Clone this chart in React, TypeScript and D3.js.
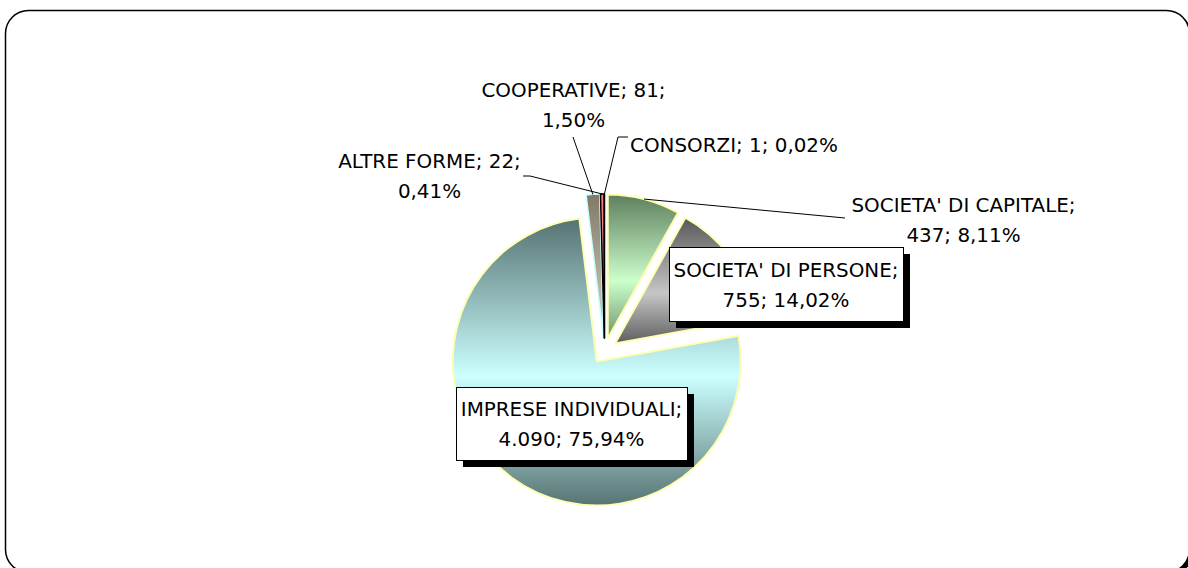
import React from 'react';
import * as d3 from 'd3';

// ---- Data ----
const categories = [
  "SOCIETA' DI CAPITALE",
  "SOCIETA' DI PERSONE",
  'IMPRESE INDIVIDUALI',
  'COOPERATIVE',
  'ALTRE FORME',
  'CONSORZI',
];
const values = [437, 755, 4090, 81, 22, 1];

// ---- Styles / layout ----
const W = 1188;
const H = 568;
const CX = 604.5;
const CY = 351;
const R = 144;
const EXPLODE = 13;
const FONT = '"DejaVu Sans", Verdana, sans-serif';
const FS = 19.9;
const LINE = 29.5;

type Grad = { stops: [number, string][]; stroke: string; strokeWidth: number };
const sliceStyles: Grad[] = [
  { stops: [[0, '#5e7e5e'], [0.6, '#ccffcc'], [1, '#6f956f']], stroke: '#ffffb4', strokeWidth: 2 },
  { stops: [[0, '#585858'], [0.6, '#c6c6c6'], [1, '#5e5e5e']], stroke: '#ffffb4', strokeWidth: 2 },
  { stops: [[0, '#567272'], [0.55, '#ccffff'], [1, '#587474']], stroke: '#ffffb4', strokeWidth: 2 },
  { stops: [[0, '#837866'], [1, '#d6d6c6']], stroke: '#c8ffff', strokeWidth: 1.5 },
  { stops: [[0, '#ff7a7a'], [1, '#ff9a9a']], stroke: '#000000', strokeWidth: 1.5 },
  { stops: [[0, '#000000'], [1, '#000000']], stroke: '#000000', strokeWidth: 1.5 },
];

type Layout = {
  wrap: 'name' | 'value' | 'none';
  x: number;
  y: number;
  anchor: 'middle' | 'start';
  box?: { x: number; y: number; w: number; h: number };
  elbow?: [number, number][];
};
const labelLayout: Layout[] = [
  { wrap: 'name', x: 963.5, y: 212, anchor: 'middle', elbow: [[845, 218]] },
  { wrap: 'name', x: 786, y: 277, anchor: 'middle', box: { x: 669, y: 247, w: 234, h: 74 } },
  { wrap: 'name', x: 571.5, y: 416, anchor: 'middle', box: { x: 456, y: 387, w: 231, h: 73 } },
  { wrap: 'value', x: 573.5, y: 97, anchor: 'middle', elbow: [[573, 137]] },
  { wrap: 'value', x: 429.5, y: 168, anchor: 'middle', elbow: [[523, 176], [530, 176]] },
  { wrap: 'none', x: 630, y: 152, anchor: 'start', elbow: [[628, 137], [618, 137]] },
];

const locale = d3.formatLocale({ decimal: ',', thousands: '.', grouping: [3], currency: ['€', ''] });
const fmtVal = locale.format(',d');
const fmtPct = locale.format('.2f');

export default function App() {
  const total = d3.sum(values);
  const data = categories.map((c, i) => ({ name: c, value: values[i], i }));
  const pie = d3.pie<any>().sort(null).value((d) => d.value).startAngle(0).endAngle(2 * Math.PI);
  const arcs = pie(data);
  const arcGen = d3.arc<any>().innerRadius(0).outerRadius(R);

  return (
    <svg
      width={W}
      height={H}
      style={{ position: 'fixed', left: 0, top: 0, display: 'block', background: '#fff', overflow: 'hidden' }}
      fontFamily={FONT}
    >
      <defs>
        {sliceStyles.map((s, i) => (
          <linearGradient key={i} id={`g${i}`} x1="0" y1="0" x2="0" y2="1">
            {s.stops.map(([o, c], j) => (
              <stop key={j} offset={o} stopColor={c} />
            ))}
          </linearGradient>
        ))}
      </defs>
      <rect x={8.5} y={13.5} width={1184} height={562} rx={23} fill="#000" />
      <rect x={5.5} y={10.5} width={1184} height={562} rx={23} fill="#fff" stroke="#000" strokeWidth={1.5} />

      {arcs.map((a, i) => {
        const mid = (a.startAngle + a.endAngle) / 2;
        const dx = Math.sin(mid) * EXPLODE;
        const dy = -Math.cos(mid) * EXPLODE;
        const st = sliceStyles[i];
        return (
          <g key={i} transform={`translate(${CX + dx},${CY + dy})`}>
            <path d={arcGen(a) || ''} fill={`url(#g${i})`} stroke={st.stroke} strokeWidth={st.strokeWidth} strokeLinejoin="round" />
          </g>
        );
      })}

      {arcs.map((a, i) => {
        const L = labelLayout[i];
        const mid = (a.startAngle + a.endAngle) / 2;
        const ax = CX + Math.sin(mid) * (EXPLODE + R);
        const ay = CY - Math.cos(mid) * (EXPLODE + R);
        const d = data[i];
        const v = fmtVal(d.value);
        const p = fmtPct((d.value / total) * 100) + '%';
        let lines: string[];
        if (L.wrap === 'name') lines = [`${d.name};`, `${v}; ${p}`];
        else if (L.wrap === 'value') lines = [`${d.name}; ${v};`, p];
        else lines = [`${d.name}; ${v}; ${p}`];
        const pts = L.elbow ? [...L.elbow, [ax, ay]] : null;
        return (
          <g key={`l${i}`}>
            {pts && (
              <polyline points={pts.map((q) => q.join(',')).join(' ')} fill="none" stroke="#000" strokeWidth={1} />
            )}
            {L.box && (
              <>
                <rect x={L.box.x + 7} y={L.box.y + 7} width={L.box.w} height={L.box.h} fill="#000" />
                <rect x={L.box.x + 0.5} y={L.box.y + 0.5} width={L.box.w} height={L.box.h} fill="#fff" stroke="#000" strokeWidth={1} />
              </>
            )}
            {lines.map((t, j) => (
              <text key={j} x={L.x} y={L.y + j * LINE} textAnchor={L.anchor} fontSize={FS} fill="#000">
                {t}
              </text>
            ))}
          </g>
        );
      })}
    </svg>
  );
}
